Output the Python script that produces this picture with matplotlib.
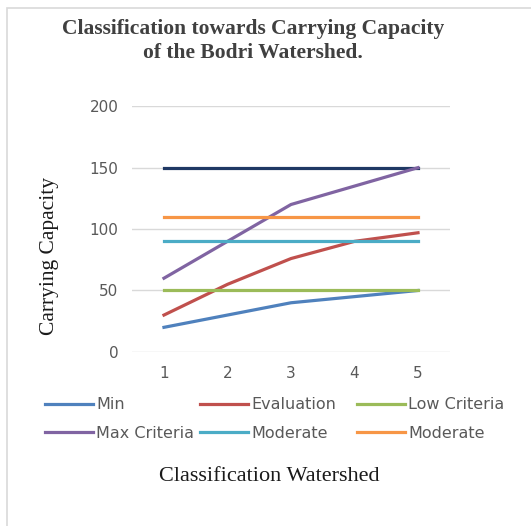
import numpy as np
import matplotlib.pyplot as plt

# data
x = [1, 2, 3, 4, 5]
min_vals = [20, 30, 40, 45, 50]
evaluation = [30, 55, 76, 90, 97]
low_criteria = [50, 50, 50, 50, 50]
max_criteria = [60, 90, 120, 135, 150]
moderate_1 = [90, 90, 90, 90, 90]
moderate_2 = [110, 110, 110, 110, 110]
upper = [150, 150, 150, 150, 150]

fig = plt.figure(figsize=(5.31, 5.26), dpi=100)
ax = fig.add_axes([0.249, 0.331, 0.598, 0.467])

# outer frame like the pasted image
fig.patches.append(plt.Rectangle((0.013, -0.05), 1.1, 1.035, transform=fig.transFigure,
                                 fill=False, edgecolor='#d9d9d9', lw=1.2))

lw = 2.3
ax.plot(x, upper, color='#1f3864', lw=lw, label='_nolegend_')
h_min, = ax.plot(x, min_vals, color='#4f81bd', lw=lw, label='Min')
h_eval, = ax.plot(x, evaluation, color='#c0504d', lw=lw, label='Evaluation')
h_low, = ax.plot(x, low_criteria, color='#9bbb59', lw=lw, label='Low Criteria')
h_max, = ax.plot(x, max_criteria, color='#8064a2', lw=lw, label='Max Criteria')
h_mod1, = ax.plot(x, moderate_1, color='#4bacc6', lw=lw, label='Moderate')
h_mod2, = ax.plot(x, moderate_2, color='#f79646', lw=lw, label='Moderate')

ax.set_xlim(0.5, 5.5)
ax.set_ylim(0, 200)
ax.set_yticks([0, 50, 100, 150, 200])
ax.set_xticks(x)
ax.grid(axis='y', color='#d9d9d9', lw=1)
ax.set_axisbelow(True)
for s in ax.spines.values():
    s.set_visible(False)
ax.tick_params(length=0, labelsize=11, labelcolor='#595959', pad=10)

ax.set_ylabel('Carrying Capacity', family='Liberation Serif', fontsize=15.5, color='#1a1a1a')
ax.yaxis.set_label_coords(-0.232, 0.39)

fig.text(0.477, 0.922, 'Classification towards Carrying Capacity\nof the Bodri Watershed.',
         ha='center', va='center', family='Liberation Serif', fontweight='bold',
         fontsize=15.5, color='#404040', linespacing=1.3)

# legend: three equal columns, filled row by row
columns = [(h_min, h_max), (h_eval, h_mod1), (h_low, h_mod2)]
col_x = [45, 200, 357]
for hs, cx in zip(columns, col_x):
    fig.legend(hs, [h.get_label() for h in hs], loc='center left',
               bbox_to_anchor=(cx / 531, 1 - 419 / 526), frameon=False,
               fontsize=11.5, labelcolor='#595959', handlelength=3.0,
               handletextpad=0.2, labelspacing=0.85, borderpad=0, borderaxespad=0)

fig.text(0.508, 0.095, 'Classification Watershed', ha='center', va='center',
         family='Liberation Serif', fontsize=16, color='#1a1a1a')

fig.savefig('out.png', dpi=100)
